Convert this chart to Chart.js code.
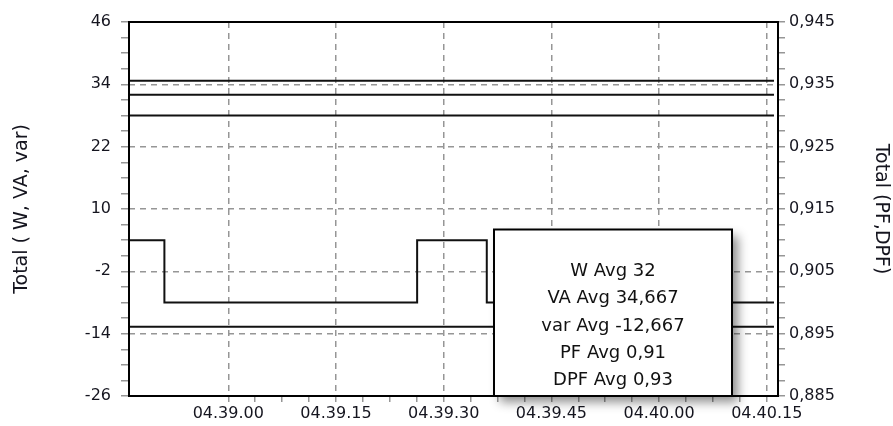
<!DOCTYPE html>
<html>
<head>
<meta charset="utf-8">
<script src="https://cdn.jsdelivr.net/npm/chart.js@4.4.1/dist/chart.umd.min.js"></script>
<style>
  html, body { margin: 0; padding: 0; background: #fff; }
  #chart { display: block; }
</style>
</head>
<body>
<canvas id="chart" width="893" height="426"></canvas>
<script>
// time in seconds, relative to 04.39.00
const timeSec = [-13.8, -8.9, 26.3, 36.0, 76.0];
const wValues = [32, 32, 32, 32, 32];
const vaValues = [34.667, 34.667, 34.667, 34.667, 34.667];
const varValues = [-12.667, -12.667, -12.667, -12.667, -12.667];
const pfValues = [0.91, 0.90, 0.91, 0.90, 0.90];
const dpfValues = [0.93, 0.93, 0.93, 0.93, 0.93];

const xTickSec = [0, 15, 30, 45, 60, 75];
const xTickLabels = ['04.39.00', '04.39.15', '04.39.30', '04.39.45', '04.40.00', '04.40.15'];
const leftTicks = [46, 34, 22, 10, -2, -14, -26];
const rightTicks = [0.945, 0.935, 0.925, 0.915, 0.905, 0.895, 0.885];

const summaryNames = ['W Avg', 'VA Avg', 'var Avg', 'PF Avg', 'DPF Avg'];
const summaryValues = [32, 34.667, -12.667, 0.91, 0.93];

const FONT = 'DejaVu Sans';
const LABEL_COLOR = '#15151f';
const GRID_COLOR = '#969696';

function withMinors(majors, parts) {
	// add (parts-1) minor ticks between each pair of major ticks
	const sorted = majors.slice().sort((a, b) => a - b);
	const out = [];
	for (let i = 0; i < sorted.length - 1; i++) {
		const step = (sorted[i + 1] - sorted[i]) / parts;
		for (let k = 0; k < parts; k++) out.push({ value: sorted[i] + step * k });
	}
	out.push({ value: sorted[sorted.length - 1] });
	return out;
}

function isMajor(list, v) {
	return list.some(m => Math.abs(m - v) < 1e-7);
}

function comma(v) {
	return String(v).replace('.', ',');
}

function lineSet(label, values, axis, stepped) {
	return {
		label: label,
		data: timeSec.map((t, i) => ({ x: t, y: values[i] })),
		yAxisID: axis,
		borderColor: '#111',
		borderWidth: 2,
		pointRadius: 0,
		stepped: stepped,
		fill: false
	};
}

const boxPlugin = {
	id: 'frameAndSummary',
	afterDatasetsDraw(chart) {
		const { ctx, chartArea: a } = chart;
		ctx.save();
		ctx.strokeStyle = '#000';
		ctx.lineWidth = 2;
		ctx.strokeRect(a.left, a.top, a.right - a.left, a.bottom - a.top);
		ctx.restore();

		// summary box
		const bx = a.left + 365, by = a.top + 207.5, bw = 238, bh = a.bottom - by;
		ctx.save();
		ctx.shadowColor = 'rgba(0,0,0,0.45)';
		ctx.shadowBlur = 10;
		ctx.shadowOffsetX = 6;
		ctx.shadowOffsetY = 6;
		ctx.fillStyle = '#fff';
		ctx.fillRect(bx, by, bw, bh);
		ctx.restore();

		ctx.save();
		ctx.strokeStyle = '#000';
		ctx.lineWidth = 2;
		ctx.strokeRect(bx, by, bw, bh);
		ctx.fillStyle = '#111';
		ctx.font = '18px "' + FONT + '"';
		ctx.textAlign = 'center';
		ctx.textBaseline = 'middle';
		summaryNames.forEach((n, i) => {
			ctx.fillText(n + ' ' + comma(summaryValues[i]), bx + bw / 2, by + 42 + i * 27.3);
		});
		ctx.restore();
	}
};

new Chart(document.getElementById('chart'), {
	type: 'line',
	data: {
		datasets: [
			lineSet('VA', vaValues, 'y', false),
			lineSet('W', wValues, 'y', false),
			lineSet('var', varValues, 'y', false),
			lineSet('DPF', dpfValues, 'y1', false),
			lineSet('PF', pfValues, 'y1', true)
		]
	},
	options: {
		responsive: false,
		animation: false,
		layout: { padding: { top: 22, left: 0, right: 0, bottom: 0 } },
		plugins: {
			legend: { display: false },
			tooltip: { enabled: false }
		},
		scales: {
			x: {
				type: 'linear',
				min: -13.83,
				max: 76.56,
				afterBuildTicks: (s) => { s.ticks = withMinors(xTickSec, 4); },
				afterFit: (s) => { s.height = 30; },
				ticks: {
					autoSkip: false,
					maxRotation: 0,
					padding: 2,
					color: LABEL_COLOR,
					font: { family: FONT, size: 16 },
					callback: (v) => {
						const i = xTickSec.findIndex(t => Math.abs(t - v) < 1e-7);
						return i >= 0 ? xTickLabels[i] : '';
					}
				},
				grid: {
					color: (c) => c.tick && isMajor(xTickSec, c.tick.value) ? GRID_COLOR : 'rgba(0,0,0,0)',
					lineWidth: 1.5,
					tickColor: GRID_COLOR,
					tickLength: 6
				},
				border: { display: false, dash: [6, 5] }
			},
			y: {
				position: 'left',
				min: -26,
				max: 46,
				afterBuildTicks: (s) => { s.ticks = withMinors(leftTicks, 4); },
				afterFit: (s) => { s.width = 129; },
				ticks: {
					autoSkip: false,
					padding: 10,
					color: LABEL_COLOR,
					font: { family: FONT, size: 16 },
					callback: (v) => isMajor(leftTicks, v) ? String(Math.round(v)) : ''
				},
				grid: {
					color: (c) => c.tick && isMajor(leftTicks, c.tick.value) ? GRID_COLOR : 'rgba(0,0,0,0)',
					lineWidth: 1.5,
					tickColor: GRID_COLOR,
					tickLength: 8
				},
				border: { display: false, dash: [6, 5] },
				title: {
					display: true,
					text: 'Total ( W, VA, var)',
					color: LABEL_COLOR,
					font: { family: FONT, size: 19 },
					padding: { top: 11, bottom: 0 }
				}
			},
			y1: {
				position: 'right',
				min: 0.885,
				max: 0.945,
				afterBuildTicks: (s) => { s.ticks = withMinors(rightTicks, 4); },
				afterFit: (s) => { s.width = 115; },
				ticks: {
					autoSkip: false,
					padding: 4,
					color: LABEL_COLOR,
					font: { family: FONT, size: 16 },
					callback: (v) => isMajor(rightTicks, v) ? comma(v.toFixed(3)) : ''
				},
				grid: {
					drawOnChartArea: false,
					tickColor: GRID_COLOR,
					tickLength: 7,
					lineWidth: 1.5
				},
				border: { display: false },
				title: {
					display: true,
					text: 'Total (PF,DPF)',
					color: LABEL_COLOR,
					font: { family: FONT, size: 19 },
					padding: { top: 1, bottom: 0 }
				}
			}
		}
	},
	plugins: [boxPlugin]
});
</script>
</body>
</html>
